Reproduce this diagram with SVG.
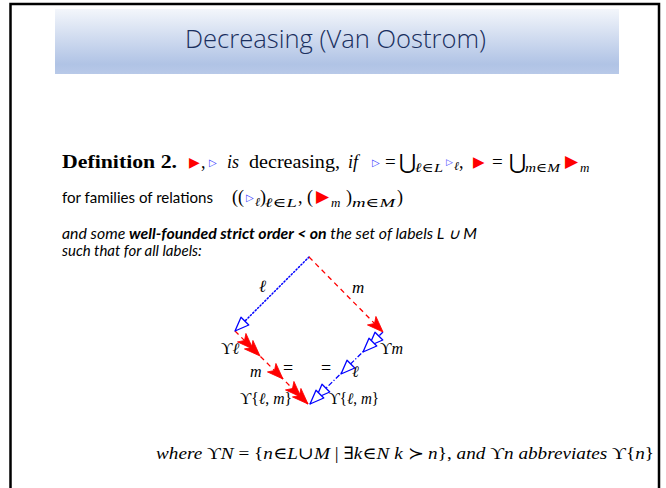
<svg xmlns="http://www.w3.org/2000/svg" xmlns:xlink="http://www.w3.org/1999/xlink" width="666" height="488" viewBox="0 0 666 488">
<defs>
<linearGradient id="tg" x1="0" y1="0" x2="0" y2="1">
<stop offset="0" stop-color="#f3f6fb"/>
<stop offset="0.85" stop-color="#b0c3e5"/>
<stop offset="1" stop-color="#b8c9e8"/>
</linearGradient>
<polygon id="rh" points="0,0 -16,-6 -12,0 -16,6" fill="#ff0000" stroke="#ff0000" stroke-width="0.8" stroke-linejoin="round"/>
<polygon id="bh" points="0,0 -14,-5.5 -14,5.5" fill="#ffffff" stroke="#0000ff" stroke-width="1.3" stroke-linejoin="round"/>
</defs>
<style>
.serif{font-family:"Liberation Serif","DejaVu Serif",serif;fill:#000}
.it{font-style:italic}
.sans{font-family:"Lato","Liberation Sans",sans-serif;fill:#000}
.dv{font-family:"DejaVu Sans",sans-serif}
.red{fill:#ff0000}
.blu{fill:#3b3bff}
.sym{font-family:"DejaVu Sans","Liberation Serif",serif;fill:#000}
</style>
<rect x="0" y="0" width="666" height="488" fill="#ffffff"/>
<rect x="10.5" y="4" width="648.5" height="500" fill="none" stroke="#000" stroke-width="2.5"/>

<g id="title">
<rect x="55" y="9" width="564" height="65" fill="url(#tg)"/>
<text x="335.5" y="48" text-anchor="middle" font-family="Open Sans, Liberation Sans, sans-serif" font-weight="300" font-size="26" fill="#1a2f5e" textLength="301" lengthAdjust="spacingAndGlyphs">Decreasing (Van Oostrom)</text>
</g>

<g id="definition">
<text class="serif" x="62" y="168" font-size="18" font-weight="bold" textLength="115" lengthAdjust="spacingAndGlyphs">Definition 2.</text>
<text class="dv red" x="189" y="167" font-size="14">▶</text>
<text class="serif" x="201" y="168" font-size="18">,</text>
<text class="dv blu" x="209" y="166" font-size="10">▷</text>
<text class="serif it" x="227" y="168" font-size="18">is</text>
<text class="serif" x="249" y="168" font-size="18" textLength="91" lengthAdjust="spacingAndGlyphs">decreasing,</text>
<text class="serif it" x="348" y="168" font-size="18">if</text>
<text class="dv blu" x="372" y="166" font-size="10">▷</text>
<text class="serif" x="385" y="168" font-size="19">=</text>
<text class="sym" x="399" y="169" font-size="21">⋃</text>
<text class="serif it" x="415" y="172" font-size="13" textLength="28" lengthAdjust="spacingAndGlyphs">ℓ∈L</text>
<text class="dv blu" x="446" y="165" font-size="9">▷</text>
<text class="serif it" x="454" y="170" font-size="12">ℓ</text>
<text class="serif" x="459" y="168" font-size="18">,</text>
<text class="dv red" x="473" y="167" font-size="15">▶</text>
<text class="serif" x="492" y="168" font-size="19">=</text>
<text class="sym" x="509" y="169" font-size="21">⋃</text>
<text class="serif it" x="525" y="172" font-size="13" textLength="35" lengthAdjust="spacingAndGlyphs">m∈M</text>
<text class="dv red" x="565" y="167" font-size="17">▶</text>
<text class="serif it" x="580" y="172" font-size="13">m</text>
</g>

<g id="families">
<text class="sans" x="62" y="203" font-size="15" textLength="151" lengthAdjust="spacingAndGlyphs">for families of relations</text>
<text class="serif" x="232" y="203" font-size="18">((</text>
<text class="dv blu" x="246" y="201" font-size="10">▷</text>
<text class="serif it" x="255" y="206" font-size="12">ℓ</text>
<text class="serif" x="260" y="203" font-size="18">)</text>
<text class="serif it" x="265" y="207" font-size="13" textLength="32" lengthAdjust="spacingAndGlyphs">ℓ∈L</text>
<text class="serif" x="298" y="203" font-size="18">,</text>
<text class="serif" x="307" y="203" font-size="18">(</text>
<text class="dv red" x="316" y="202" font-size="17">▶</text>
<text class="serif it" x="331" y="207" font-size="13">m</text>
<text class="serif" x="346" y="203" font-size="18">)</text>
<text class="serif it" x="352" y="207" font-size="13" textLength="43" lengthAdjust="spacingAndGlyphs">m∈M</text>
<text class="serif" x="397" y="203" font-size="18">)</text>
</g>

<g id="order">
<text class="sans it" x="62" y="239" font-size="14.5" textLength="415" lengthAdjust="spacingAndGlyphs">and some <tspan font-weight="bold">well-founded strict order &lt; on</tspan> the set of labels L ∪ M</text>
<text class="sans it" x="62" y="256" font-size="15">such that for all labels:</text>
</g>

<g id="connectors">
<line x1="309" y1="257" x2="238" y2="328" stroke="#0000ff" stroke-width="1.5" stroke-dasharray="1.2,2.2" stroke-linecap="round"/>
<line x1="309" y1="257" x2="380" y2="329" stroke="#ff0000" stroke-width="1.3" stroke-dasharray="5,4"/>
<line x1="235" y1="331" x2="308" y2="404" stroke="#ff0000" stroke-width="1.3" stroke-dasharray="5,4"/>
<line x1="383" y1="332" x2="310" y2="404" stroke="#0000ff" stroke-width="1.3" stroke-dasharray="5,2,1.2,2"/>
<use xlink:href="#bh" transform="translate(235,331) rotate(135)"/>
<use xlink:href="#rh" transform="translate(383,332) rotate(45)"/>
<use xlink:href="#rh" transform="translate(253,349) rotate(45)"/>
<use xlink:href="#rh" transform="translate(260,356) rotate(45)"/>
<use xlink:href="#rh" transform="translate(283,379) rotate(45)"/>
<use xlink:href="#rh" transform="translate(301,397) rotate(45)"/>
<use xlink:href="#rh" transform="translate(308,404) rotate(45)"/>
<use xlink:href="#bh" transform="translate(369,346) rotate(135)"/>
<use xlink:href="#bh" transform="translate(363,352) rotate(135)"/>
<use xlink:href="#bh" transform="translate(341,374) rotate(135)"/>
<use xlink:href="#bh" transform="translate(316,398) rotate(135)"/>
<use xlink:href="#bh" transform="translate(310,404) rotate(135)"/>
</g>

<g id="labels">
<text class="serif it" x="259" y="292" font-size="17">ℓ</text>
<text class="serif it" x="352" y="293" font-size="17">m</text>
<text class="serif" x="221" y="354" font-size="16">ϒ<tspan class="it">ℓ</tspan></text>
<text class="serif it" x="250" y="377" font-size="16">m</text>
<text class="serif" x="283" y="374" font-size="18">=</text>
<text class="serif" x="240" y="404" font-size="16" textLength="52" lengthAdjust="spacingAndGlyphs">ϒ{<tspan class="it">ℓ</tspan>, <tspan class="it">m</tspan>}</text>
<text class="serif" x="380" y="354" font-size="16">ϒ<tspan class="it">m</tspan></text>
<text class="serif" x="321" y="374" font-size="18">=</text>
<text class="serif it" x="352" y="377" font-size="16">ℓ</text>
<text class="serif" x="329" y="404" font-size="16" textLength="50" lengthAdjust="spacingAndGlyphs">ϒ{<tspan class="it">ℓ</tspan>, <tspan class="it">m</tspan>}</text>
</g>

<g id="where">
<text class="serif" x="156" y="459" font-size="17" textLength="498" lengthAdjust="spacingAndGlyphs"><tspan class="it">where</tspan> ϒ<tspan class="it">N</tspan> = {<tspan class="it">n</tspan>∈<tspan class="it">L</tspan>∪<tspan class="it">M</tspan> | ∃<tspan class="it">k</tspan>∈<tspan class="it">N</tspan> <tspan class="it">k</tspan> ≻ <tspan class="it">n</tspan>}, <tspan class="it">and</tspan> ϒ<tspan class="it">n</tspan> <tspan class="it">abbreviates</tspan> ϒ{<tspan class="it">n</tspan>}</text>
</g>
</svg>
